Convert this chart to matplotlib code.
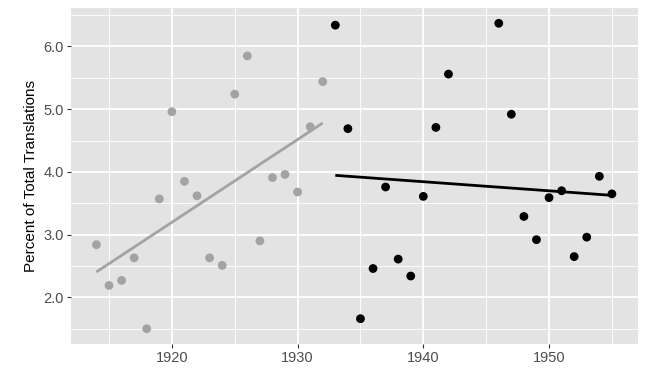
import numpy as np
import matplotlib.pyplot as plt
from matplotlib.ticker import MultipleLocator, FormatStrFormatter

plt.rcParams['font.family'] = ['Liberation Sans', 'DejaVu Sans']

# --- dati ---
years_early = [1914, 1915, 1916, 1917, 1918, 1919, 1920, 1921, 1922, 1923,
               1924, 1925, 1926, 1927, 1928, 1929, 1930, 1931, 1932]
pct_early = [2.84, 2.19, 2.27, 2.63, 1.50, 3.57, 4.96, 3.85, 3.62, 2.63,
             2.51, 5.24, 5.85, 2.90, 3.91, 3.96, 3.68, 4.72, 5.44]

years_late = [1933, 1934, 1935, 1936, 1937, 1938, 1939, 1940, 1941, 1942,
              1946, 1947, 1948, 1949, 1950, 1951, 1952, 1953, 1954, 1955]
pct_late = [6.34, 4.69, 1.66, 2.46, 3.76, 2.61, 2.34, 3.61, 4.71, 5.56,
            6.37, 4.92, 3.29, 2.92, 3.59, 3.70, 2.65, 2.96, 3.93, 3.65]

ylabel = 'Percent of Total Translations'

fig = plt.figure(figsize=(6.63, 3.82), dpi=100)
ax = fig.add_axes([0.1066, 0.0995, 0.8552, 0.8795])
ax.set_facecolor('#E3E3E3')

# punti
ax.scatter(years_early, pct_early, s=40, color='#A3A3A3', edgecolors='none', zorder=3)
ax.scatter(years_late, pct_late, s=40, color='black', edgecolors='none', zorder=3)

# rette di regressione (lm)
for xs, ys, col in [(years_early, pct_early, '#A3A3A3'), (years_late, pct_late, 'black')]:
    xs = np.array(xs, dtype=float)
    ys = np.array(ys, dtype=float)
    k, b = np.polyfit(xs, ys, 1)
    xx = np.array([xs.min(), xs.max()])
    ax.plot(xx, k * xx + b, color=col, lw=2.0, zorder=4, solid_capstyle='butt')

# limiti con espansione 5% come ggplot
all_x = years_early + years_late
all_y = pct_early + pct_late
dx = (max(all_x) - min(all_x)) * 0.05
dy = (max(all_y) - min(all_y)) * 0.05
ax.set_xlim(min(all_x) - dx, max(all_x) + dx)
ax.set_ylim(min(all_y) - dy, max(all_y) + dy)

ax.xaxis.set_major_locator(MultipleLocator(10))
ax.xaxis.set_minor_locator(MultipleLocator(5))
ax.yaxis.set_major_locator(MultipleLocator(1))
ax.yaxis.set_minor_locator(MultipleLocator(0.5))
ax.yaxis.set_major_formatter(FormatStrFormatter('%.1f'))

ax.grid(which='major', color='white', lw=1.3)
ax.grid(which='minor', color='white', lw=0.6)
ax.set_axisbelow(True)

for s in ax.spines.values():
    s.set_visible(False)

ax.tick_params(which='major', length=3, width=0.8, color='#333333',
               labelcolor='#4D4D4D', labelsize=10.5, pad=2)
ax.tick_params(which='minor', length=0)

ax.set_ylabel(ylabel, fontsize=11, color='black', labelpad=4)

fig.savefig('out.png', dpi=100)
